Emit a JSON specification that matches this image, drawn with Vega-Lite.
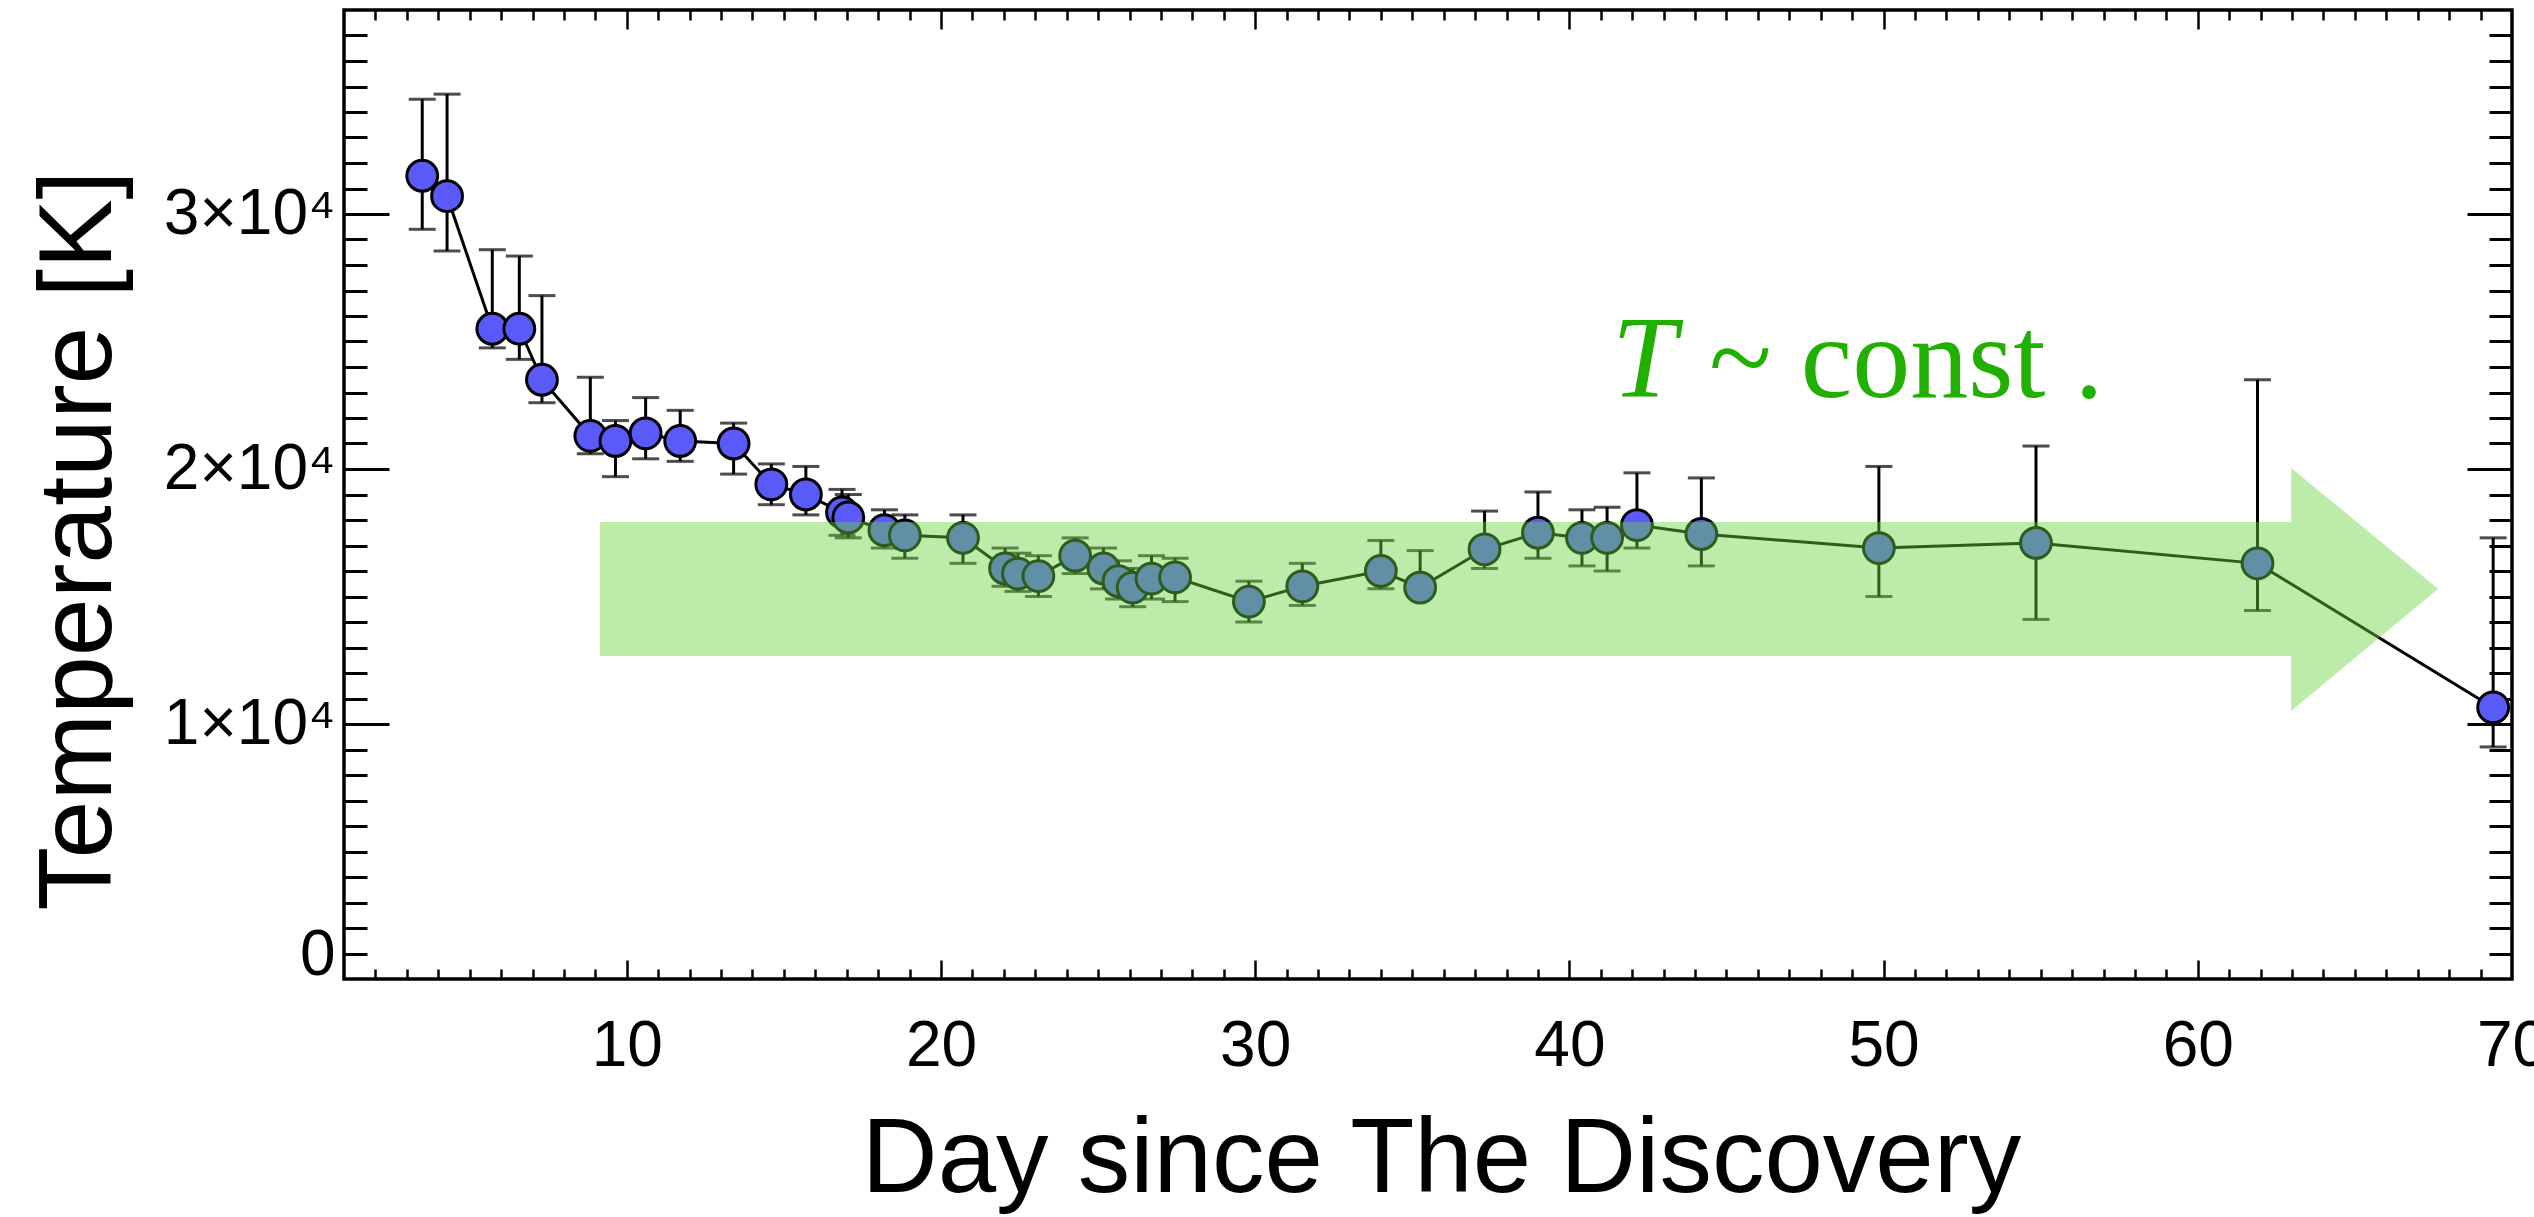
{
  "$schema": "https://vega.github.io/schema/vega-lite/v6.json",
  "width": 2168,
  "height": 969,
  "autosize": "none",
  "padding": {"left": 344, "top": 10, "right": 22, "bottom": 238},
  "background": "white",
  "config": {
    "view": {"stroke": "black", "strokeWidth": 3.5},
    "axis": {"grid": false, "domain": false, "labelFont": "Liberation Sans", "titleFont": "Liberation Sans", "tickColor": "black", "labelColor": "black", "titleColor": "black", "tickWidth": 3}
  },
  "datasets": {
    "pts": [
      {"day": 3.49, "T": 31500, "lo": 29400, "hi": 34500},
      {"day": 4.28, "T": 30700, "lo": 28550, "hi": 34700},
      {"day": 5.72, "T": 25500, "lo": 24750, "hi": 28600},
      {"day": 6.58, "T": 25500, "lo": 24300, "hi": 28350},
      {"day": 7.30, "T": 23500, "lo": 22600, "hi": 26800},
      {"day": 8.84, "T": 21300, "lo": 20600, "hi": 23600},
      {"day": 9.64, "T": 21100, "lo": 19700, "hi": 21900},
      {"day": 10.60, "T": 21400, "lo": 20400, "hi": 22800},
      {"day": 11.70, "T": 21100, "lo": 20300, "hi": 22300},
      {"day": 13.40, "T": 21000, "lo": 19800, "hi": 21800},
      {"day": 14.60, "T": 19400, "lo": 18600, "hi": 20200},
      {"day": 15.70, "T": 19000, "lo": 18200, "hi": 20100},
      {"day": 16.85, "T": 18300, "lo": 17400, "hi": 19200},
      {"day": 17.05, "T": 18100, "lo": 17300, "hi": 19000},
      {"day": 18.20, "T": 17600, "lo": 16900, "hi": 18400},
      {"day": 18.85, "T": 17400, "lo": 16500, "hi": 18200},
      {"day": 20.70, "T": 17300, "lo": 16300, "hi": 18200},
      {"day": 22.04, "T": 16100, "lo": 15400, "hi": 16900},
      {"day": 22.45, "T": 15900, "lo": 15200, "hi": 16700},
      {"day": 23.10, "T": 15800, "lo": 15000, "hi": 16600},
      {"day": 24.27, "T": 16600, "lo": 15900, "hi": 17300},
      {"day": 25.17, "T": 16100, "lo": 15300, "hi": 16900},
      {"day": 25.65, "T": 15600, "lo": 14900, "hi": 16400},
      {"day": 26.10, "T": 15350, "lo": 14600, "hi": 16100},
      {"day": 26.70, "T": 15700, "lo": 14900, "hi": 16600},
      {"day": 27.45, "T": 15750, "lo": 14800, "hi": 16500},
      {"day": 29.80, "T": 14800, "lo": 14000, "hi": 15600},
      {"day": 31.50, "T": 15400, "lo": 14650, "hi": 16300},
      {"day": 34.00, "T": 16000, "lo": 15300, "hi": 17200},
      {"day": 35.25, "T": 15350, "lo": 15000, "hi": 16800},
      {"day": 37.30, "T": 16850, "lo": 16100, "hi": 18350},
      {"day": 39.00, "T": 17500, "lo": 16500, "hi": 19100},
      {"day": 40.40, "T": 17300, "lo": 16200, "hi": 18400},
      {"day": 41.20, "T": 17300, "lo": 16000, "hi": 18500},
      {"day": 42.15, "T": 17800, "lo": 16900, "hi": 19850},
      {"day": 44.20, "T": 17450, "lo": 16200, "hi": 19650},
      {"day": 49.85, "T": 16900, "lo": 15000, "hi": 20100},
      {"day": 54.85, "T": 17100, "lo": 14100, "hi": 20900},
      {"day": 61.90, "T": 16300, "lo": 14450, "hi": 23500},
      {"day": 69.40, "T": 10650, "lo": 9100, "hi": 17300}
    ],
    "arrow": [
      {"day": 9.15, "top": 17920, "bottom": 12670},
      {"day": 62.97, "top": 17920, "bottom": 12670},
      {"day": 62.97, "top": 20040, "bottom": 10510},
      {"day": 67.65, "top": 15300, "bottom": 15300}
    ],
    "italic": [{"day": 41.36, "T": 22820, "label": "T"}],
    "upright": [{"day": 44.44, "T": 22820, "label": "~ const ."}]
  },
  "layer": [
    {
      "data": {"name": "pts"},
      "mark": {"type": "line", "color": "black", "strokeWidth": 3},
      "encoding": {
        "x": {"field": "day", "type": "quantitative", "scale": {"domain": [1, 70], "nice": false, "zero": false},
          "axis": {"orient": "bottom", "values": [10, 20, 30, 40, 50, 60, 70], "ticks": false, "labelFontSize": 64, "labelPadding": 35, "labelFlush": false, "labelOverlap": false, "labelBound": false,
            "title": "Day since The Discovery", "titleFontSize": 105, "titleFontWeight": "normal", "titleX": 1097, "titleY": 212, "titleAlign": "center", "titleBaseline": "alphabetic", "titleAngle": 0}},
        "y": {"field": "T", "type": "quantitative", "scale": {"domain": [0, 38000], "nice": false, "zero": false},
          "axis": {"orient": "left", "values": [0, 10000, 20000, 30000], "ticks": false, "labelFontSize": 64, "labelPadding": 9, "labelFlush": false, "labelOverlap": false, "labelBound": false,
            "labelExpr": "datum.value === 0 ? '0' : format(datum.value / 10000, 'd') + '×10⁴'",
            "labelOffset": {"condition": {"test": "datum.value === 0", "value": -24}, "value": 0},
            "title": "Temperature [K]", "titleFontSize": 104, "titleFontWeight": "normal", "titleX": -234, "titleY": 530, "titleAngle": -90, "titleAlign": "center", "titleBaseline": "alphabetic"}}
      }
    },
    {
      "data": {"name": "pts"},
      "mark": {"type": "rule", "color": "black", "strokeWidth": 3},
      "encoding": {
        "x": {"field": "day", "type": "quantitative", "scale": {"domain": [1, 70], "nice": false, "zero": false},
          "axis": {"orient": "bottom", "values": [10, 20, 30, 40, 50, 60], "labels": false, "tickSize": -19, "tickWidth": 2.5, "title": null}},
        "y": {"field": "lo", "type": "quantitative", "scale": {"domain": [0, 38000], "nice": false, "zero": false},
          "axis": {"orient": "left", "values": [10000, 20000, 30000], "labels": false, "tickSize": -45, "title": null}},
        "y2": {"field": "hi"}
      }
    },
    {
      "data": {"name": "pts"},
      "mark": {"type": "tick", "orient": "horizontal", "color": "black", "size": 27, "thickness": 3},
      "encoding": {
        "x": {"field": "day", "type": "quantitative", "scale": {"domain": [1, 70], "nice": false, "zero": false},
          "axis": {"orient": "bottom", "values": [2,3,4,5,6,7,8,9,11,12,13,14,15,16,17,18,19,21,22,23,24,25,26,27,28,29,31,32,33,34,35,36,37,38,39,41,42,43,44,45,46,47,48,49,51,52,53,54,55,56,57,58,59,61,62,63,64,65,66,67,68,69], "labels": false, "tickSize": -10, "tickWidth": 2.5, "title": null}},
        "y": {"field": "hi", "type": "quantitative", "scale": {"domain": [0, 38000], "nice": false, "zero": false},
          "axis": {"orient": "left", "values": [1000,2000,3000,4000,5000,6000,7000,8000,9000,11000,12000,13000,14000,15000,16000,17000,18000,19000,21000,22000,23000,24000,25000,26000,27000,28000,29000,31000,32000,33000,34000,35000,36000,37000], "labels": false, "tickSize": -23, "title": null}}
      }
    },
    {
      "data": {"name": "pts"},
      "mark": {"type": "tick", "orient": "horizontal", "color": "black", "size": 27, "thickness": 3},
      "encoding": {
        "x": {"field": "day", "type": "quantitative", "scale": {"domain": [1, 70], "nice": false, "zero": false},
          "axis": {"orient": "top", "values": [10, 20, 30, 40, 50, 60], "labels": false, "tickSize": -19, "tickWidth": 2.5, "title": null}},
        "y": {"field": "lo", "type": "quantitative", "scale": {"domain": [0, 38000], "nice": false, "zero": false},
          "axis": {"orient": "right", "values": [10000, 20000, 30000], "labels": false, "tickSize": -45, "title": null}}
      }
    },
    {
      "data": {"name": "pts"},
      "mark": {"type": "point", "shape": "circle", "filled": true, "fill": "#5a5af8", "stroke": "black", "strokeWidth": 3, "opacity": 1, "size": 950},
      "encoding": {
        "x": {"field": "day", "type": "quantitative", "scale": {"domain": [1, 70], "nice": false, "zero": false},
          "axis": {"orient": "top", "values": [2,3,4,5,6,7,8,9,11,12,13,14,15,16,17,18,19,21,22,23,24,25,26,27,28,29,31,32,33,34,35,36,37,38,39,41,42,43,44,45,46,47,48,49,51,52,53,54,55,56,57,58,59,61,62,63,64,65,66,67,68,69], "labels": false, "tickSize": -10, "tickWidth": 2.5, "title": null}},
        "y": {"field": "T", "type": "quantitative", "scale": {"domain": [0, 38000], "nice": false, "zero": false},
          "axis": {"orient": "right", "values": [1000,2000,3000,4000,5000,6000,7000,8000,9000,11000,12000,13000,14000,15000,16000,17000,18000,19000,21000,22000,23000,24000,25000,26000,27000,28000,29000,31000,32000,33000,34000,35000,36000,37000], "labels": false, "tickSize": -23, "title": null}}
      }
    },
    {
      "data": {"name": "arrow"},
      "mark": {"type": "area", "fill": "#69d43e", "fillOpacity": 0.44, "stroke": null, "interpolate": "linear"},
      "encoding": {
        "x": {"field": "day", "type": "quantitative", "scale": {"domain": [1, 70], "nice": false, "zero": false}, "axis": null},
        "y": {"field": "top", "type": "quantitative", "stack": null, "scale": {"domain": [0, 38000], "nice": false, "zero": false}, "axis": null},
        "y2": {"field": "bottom"}
      }
    },
    {
      "data": {"name": "italic"},
      "mark": {"type": "text", "font": "Liberation Serif", "fontSize": 116, "fontStyle": "italic", "color": "#21b000", "align": "left", "baseline": "alphabetic"},
      "encoding": {
        "x": {"field": "day", "type": "quantitative", "scale": {"domain": [1, 70], "nice": false, "zero": false}, "axis": null},
        "y": {"field": "T", "type": "quantitative", "scale": {"domain": [0, 38000], "nice": false, "zero": false}, "axis": null},
        "text": {"field": "label"}
      }
    },
    {
      "data": {"name": "upright"},
      "mark": {"type": "text", "font": "Liberation Serif", "fontSize": 116, "color": "#21b000", "align": "left", "baseline": "alphabetic"},
      "encoding": {
        "x": {"field": "day", "type": "quantitative", "scale": {"domain": [1, 70], "nice": false, "zero": false}, "axis": null},
        "y": {"field": "T", "type": "quantitative", "scale": {"domain": [0, 38000], "nice": false, "zero": false}, "axis": null},
        "text": {"field": "label"}
      }
    }
  ],
  "resolve": {"axis": {"x": "independent", "y": "independent"}}
}
